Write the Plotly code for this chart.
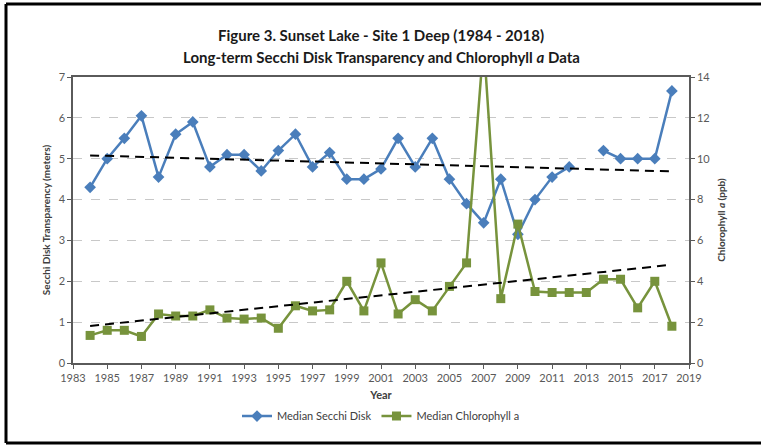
import plotly.graph_objects as go

years = list(range(1984, 2019))
secchi = [4.3, 5.0, 5.5, 6.05, 4.55, 5.6, 5.9, 4.8, 5.1, 5.1, 4.7, 5.2, 5.6, 4.8, 5.15, 4.5,
          4.5, 4.75, 5.5, 4.8, 5.5, 4.5, 3.9, 3.43, 4.5, 3.15, 4.0, 4.55, 4.8, None, 5.2, 5.0,
          5.0, 5.0, 6.66]
chl = [1.35, 1.6, 1.6, 1.3, 2.4, 2.3, 2.3, 2.6, 2.2, 2.15, 2.2, 1.7, 2.8, 2.55, 2.6, 4.0,
       2.55, 4.9, 2.4, 3.1, 2.55, 3.75, 4.9, 15.7, 3.15, 6.8, 3.5, 3.45, 3.45, 3.45, 4.1, 4.1,
       2.7, 4.0, 1.8]
trend_years = [1984, 2018]
secchi_trend = [5.08, 4.69]
chl_trend = [1.81, 4.81]
x_ticks = list(range(1983, 2020, 2))

BLUE = "#4a7ebb"
GREEN = "#77933c"
FONT = "Lato"

fig = go.Figure()
fig.add_trace(go.Scatter(x=years, y=secchi, name="Median Secchi Disk", mode="lines+markers",
                         line=dict(color=BLUE, width=2.5),
                         marker=dict(symbol="diamond", size=9, color=BLUE),
                         connectgaps=False))
fig.add_trace(go.Scatter(x=years, y=chl, name="Median Chlorophyll a", mode="lines+markers",
                         yaxis="y2", line=dict(color=GREEN, width=2.5),
                         marker=dict(symbol="square", size=9, color=GREEN)))
fig.add_trace(go.Scatter(x=trend_years, y=secchi_trend, mode="lines", showlegend=False,
                         line=dict(color="black", width=2, dash="9px,6px"), hoverinfo="skip"))
fig.add_trace(go.Scatter(x=trend_years, y=chl_trend, mode="lines", showlegend=False, yaxis="y2",
                         line=dict(color="black", width=2, dash="9px,6px"), hoverinfo="skip"))

axis_line = "#5a5a5a"
tick_font = dict(family=FONT, size=11, color="#595959")

fig.update_layout(
    width=761, height=446,
    margin=dict(l=73, r=72, t=77, b=83, autoexpand=False),
    paper_bgcolor="white", plot_bgcolor="white",
    font=dict(family=FONT, color="#404040"),
    xaxis=dict(range=[1983, 2019], tickmode="array", tickvals=x_ticks, automargin=False,
               ticks="outside", ticklen=4, tickcolor=axis_line,
               showline=True, linecolor=axis_line, linewidth=1.5, mirror=True,
               showgrid=False, zeroline=False, tickfont=tick_font,
               title=dict(text="<b>Year</b>", font=dict(family=FONT, size=11, color="#404040"),
                          standoff=8)),
    yaxis=dict(range=[0, 7], dtick=1, ticks="outside", ticklen=4, tickcolor=axis_line,
               showline=True, linecolor=axis_line, linewidth=1.5, automargin=False,
               showgrid=True, gridcolor="#c8c8c8", griddash="dash", gridwidth=1,
               zeroline=False, tickfont=tick_font,
               title=dict(text="<b>Secchi Disk Transparency (meters)</b>",
                          font=dict(family=FONT, size=10, color="#404040"), standoff=6)),
    yaxis2=dict(range=[0, 14], dtick=2, overlaying="y", side="right", automargin=False,
                ticks="outside", ticklen=4, tickcolor=axis_line,
                showline=True, linecolor=axis_line, linewidth=1.5,
                showgrid=False, zeroline=False, tickfont=tick_font,
                title=dict(text="<b>Chlorophyll <i>a</i> (ppb)</b>",
                           font=dict(family=FONT, size=10, color="#404040"), standoff=9)),
    legend=dict(orientation="h", x=0.5, xanchor="center", y=-0.135, yanchor="top",
                font=dict(family=FONT, size=11, color="#404040"), itemwidth=30),
    showlegend=True,
)

fig.add_annotation(text="<b>Figure 3. Sunset Lake - Site 1 Deep (1984 - 2018)</b>",
                   xref="paper", yref="paper", x=0.5, y=0, xanchor="center", yanchor="middle",
                   yshift=(363 - 35), showarrow=False,
                   font=dict(family=FONT, size=15, color="#1a1a1a"))
fig.add_annotation(text="<b>Long-term Secchi Disk Transparency and Chlorophyll <i>a</i> Data</b>",
                   xref="paper", yref="paper", x=0.5, y=0, xanchor="center", yanchor="middle",
                   yshift=(363 - 57), showarrow=False,
                   font=dict(family=FONT, size=15, color="#1a1a1a"))

# outer frame
fig.add_shape(type="line", xref="paper", yref="paper", x0=-67 / 616, x1=-67 / 616,
              y0=-80 / 286, y1=1 + 73 / 286, line=dict(color="black", width=3))
fig.add_shape(type="line", xref="paper", yref="paper", x0=-67 / 616, x1=1 + 80 / 616,
              y0=1 + 73 / 286, y1=1 + 73 / 286, line=dict(color="black", width=3))
fig.add_shape(type="line", xref="paper", yref="paper", x0=-67 / 616, x1=1 + 80 / 616,
              y0=-80 / 286, y1=-80 / 286, line=dict(color="black", width=3))

fig.write_html("out.html", config={"displayModeBar": False},
               post_script="document.body.style.margin='0';document.body.style.padding='0';"
                           "document.body.style.overflow='hidden';")
